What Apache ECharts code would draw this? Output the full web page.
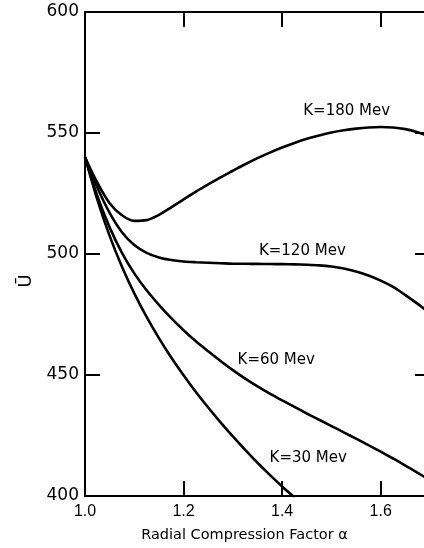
<!DOCTYPE html>
<html>
<head>
<meta charset="utf-8">
<script src="https://cdn.jsdelivr.net/npm/echarts@6/dist/echarts.min.js"></script>
<style>
html,body{margin:0;padding:0;background:#fff;overflow:hidden;width:424px;height:548px;}
#chart{width:430px;height:548px;}
</style>
</head>
<body>
<div id="chart"></div>
<script>
// Radial compression factor (x) and U-bar (y) per curve
const k180X = [1.000, 1.025, 1.050, 1.075, 1.100, 1.125, 1.150, 1.175, 1.200, 1.225, 1.250, 1.275, 1.300, 1.325, 1.350, 1.375, 1.400, 1.425, 1.450, 1.475, 1.500, 1.525, 1.550, 1.575, 1.600, 1.625, 1.650, 1.675, 1.700];
const k180Y = [540, 529.5, 521, 516, 513.7, 514.0, 516.2, 519.3, 522.6, 525.8, 528.8, 531.7, 534.4, 537.1, 539.6, 541.9, 544.0, 545.9, 547.6, 549.0, 550.2, 551.1, 551.8, 552.3, 552.5, 552.3, 551.6, 550.3, 548.5];

const k120X = [1.000, 1.025, 1.050, 1.075, 1.100, 1.125, 1.150, 1.175, 1.200, 1.225, 1.250, 1.275, 1.300, 1.325, 1.350, 1.375, 1.400, 1.425, 1.450, 1.475, 1.500, 1.525, 1.550, 1.575, 1.600, 1.625, 1.650, 1.675, 1.700];
const k120Y = [540, 527.5, 517, 509, 503.7, 500.5, 498.6, 497.5, 496.9, 496.6, 496.4, 496.2, 496.0, 495.95, 495.9, 495.85, 495.8, 495.7, 495.55, 495.3, 494.8, 494.0, 492.8, 491.1, 489.0, 486.4, 483.0, 479.4, 475.5];

const k60X = [1.000, 1.025, 1.050, 1.075, 1.100, 1.125, 1.150, 1.175, 1.200, 1.225, 1.250, 1.275, 1.300, 1.325, 1.350, 1.375, 1.400, 1.425, 1.450, 1.475, 1.500, 1.525, 1.550, 1.575, 1.600, 1.625, 1.650, 1.675, 1.700];
const k60Y = [540, 524, 511, 500.5, 492, 485, 479, 473.5, 468.5, 463.9, 459.8, 455.8, 452, 448.5, 445.3, 442.3, 439.5, 436.8, 434.1, 431.5, 428.9, 426.3, 423.7, 421, 418.3, 415.5, 412.6, 409.6, 406.5];

const k30X = [1.000, 1.025, 1.050, 1.075, 1.100, 1.125, 1.150, 1.175, 1.200, 1.225, 1.250, 1.275, 1.300, 1.325, 1.350, 1.375, 1.400, 1.425];
const k30Y = [540, 522.5, 507.5, 494.75, 483.75, 474, 465.25, 457.25, 449.9, 443, 436.55, 430.4, 424.6, 419.05, 413.75, 408.75, 403.95, 399.45];

const curveNames = ['K=180 Mev', 'K=120 Mev', 'K=60 Mev', 'K=30 Mev'];
const labelX = [1.531, 1.441, 1.388, 1.453];
const labelY = [559.1, 501.4, 456.0, 415.5];

const xTicks = [1.0, 1.2, 1.4, 1.6];
const yTicks = [400, 450, 500, 550, 600];

function pairs(xs, ys) { return xs.map((x, i) => [x, ys[i]]); }

const FONT = 'DejaVu Sans';
const chart = echarts.init(document.getElementById('chart'), null, {renderer: 'canvas'});

const lineSeries = [[k180X, k180Y], [k120X, k120Y], [k60X, k60Y], [k30X, k30Y]].map((d, i) => ({
  name: curveNames[i],
  type: 'line',
  data: pairs(d[0], d[1]),
  showSymbol: false,
  smooth: 0.3,
  clip: true,
  lineStyle: {color: '#000', width: 2.6},
  itemStyle: {color: '#000'},
  silent: true
}));

const labelSeries = {
  type: 'custom',
  silent: true,
  clip: false,
  data: labelX.map((x, i) => [x, labelY[i], i]),
  renderItem: function (params, api) {
    const p = api.coord([api.value(0), api.value(1)]);
    return {
      type: 'text',
      x: p[0], y: p[1],
      style: {
        text: curveNames[api.value(2)],
        fill: '#000',
        font: '15px "DejaVu Sans"',
        align: 'center',
        verticalAlign: 'middle'
      }
    };
  }
};

chart.setOption({
  animation: false,
  backgroundColor: '#fff',
  grid: {left: 85, right: 0, top: 12, bottom: 47, show: false},
  xAxis: [{
    type: 'value', min: 1.0, max: 1.7, interval: 0.2, position: 'bottom',
    name: 'Radial Compression Factor α', nameLocation: 'middle', nameGap: 32,
    nameTextStyle: {color: '#000', fontFamily: FONT, fontSize: 14.5, padding: [0, 26, 0, 0]},
    axisLine: {show: true, onZero: false, lineStyle: {color: '#000', width: 2}},
    axisTick: {show: true, inside: true, length: 15, lineStyle: {color: '#000', width: 2}},
    axisLabel: {color: '#000', fontFamily: 'Liberation Sans', fontSize: 16, margin: 8, showMaxLabel: false,
      formatter: v => xTicks.some(t => Math.abs(t - v) < 1e-9) ? v.toFixed(1) : ''},
    splitLine: {show: false}
  }, {
    type: 'value', min: 1.0, max: 1.7, interval: 0.2, position: 'top',
    axisLine: {show: true, onZero: false, lineStyle: {color: '#000', width: 2}},
    axisTick: {show: true, inside: true, length: 15, lineStyle: {color: '#000', width: 2}},
    axisLabel: {show: false},
    splitLine: {show: false}
  }],
  yAxis: [{
    type: 'value', min: 400, max: 600, interval: 50, position: 'left',
    name: 'Ū', nameLocation: 'middle', nameGap: 50, nameRotate: 90,
    nameTextStyle: {color: '#000', fontFamily: FONT, fontSize: 18, padding: [0, 54, 0, 0]},
    axisLine: {show: true, onZero: false, lineStyle: {color: '#000', width: 2}},
    axisTick: {show: true, inside: true, length: 15, lineStyle: {color: '#000', width: 2}},
    axisLabel: {color: '#000', fontFamily: FONT, fontSize: 17, margin: 6,
      formatter: v => yTicks.includes(v) ? String(v) : ''},
    splitLine: {show: false}
  }, {
    type: 'value', min: 400, max: 600, interval: 50, position: 'right',
    axisLine: {show: true, onZero: false, lineStyle: {color: '#000', width: 2}},
    axisTick: {show: true, inside: true, length: 15, lineStyle: {color: '#000', width: 2}},
    axisLabel: {show: false},
    splitLine: {show: false}
  }],
  series: lineSeries.concat([labelSeries])
});
</script>
</body>
</html>
